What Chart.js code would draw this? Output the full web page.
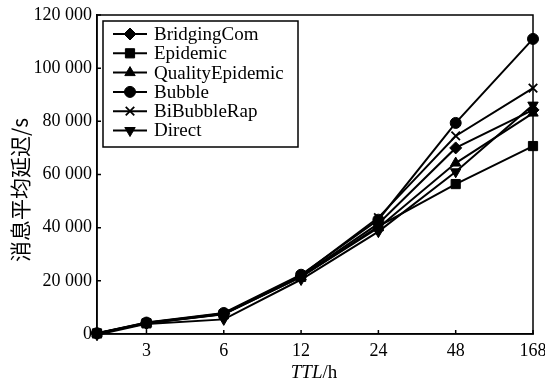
<!DOCTYPE html>
<html>
<head>
<meta charset="utf-8">
<script src="https://cdn.jsdelivr.net/npm/chart.js@4"></script>
<style>
  html, body { margin: 0; padding: 0; background: #fff; }
  #wrap { width: 545px; height: 385px; }
</style>
</head>
<body>
<div id="wrap"><canvas id="delayChart" width="545" height="385"></canvas></div>
<script>
// TTL categories (first point has no label), placed on an ordinal axis
var ttlLabels = ['', '3', '6', '12', '24', '48', '168'];
var ttlPos = [0.36, 1, 2, 3, 4, 5, 6];

var bridgingCom = [200, 4100, 7600, 21800, 41500, 70000, 84300];
var epidemic = [200, 4000, 7400, 21500, 40500, 56400, 70700];
var qualityEpidemic = [200, 4000, 7500, 21500, 40000, 64300, 83100];
var bubble = [300, 4300, 7900, 22300, 43000, 79400, 111000];
var biBubbleRap = [300, 4200, 7700, 22000, 43800, 74500, 92500];
var direct = [-300, 3800, 5500, 20500, 38500, 61000, 86100];

var yTicks = [0, 20000, 40000, 60000, 80000, 100000, 120000];

var serif = '"Liberation Serif", "DejaVu Serif", serif';

function pts(vals) {
    return vals.map(function (v, i) { return { x: ttlPos[i], y: v }; });
}

function series(label, vals, style, radius, rot) {
    return {
        label: label,
        data: pts(vals),
        borderColor: '#000',
        backgroundColor: '#000',
        borderWidth: 2,
        pointStyle: style,
        pointRadius: radius,
        pointRotation: rot || 0,
        pointBorderWidth: style === 'crossRot' ? 1.8 : 1,
        pointBorderColor: '#000',
        pointBackgroundColor: '#000',
        tension: 0,
        clip: false
    };
}

var datasets = [
    series('BridgingCom', bridgingCom, 'rectRot', 6),
    series('Epidemic', epidemic, 'rect', 6.5),
    series('QualityEpidemic', qualityEpidemic, 'triangle', 6),
    series('Bubble', bubble, 'circle', 5.5),
    series('BiBubbleRap', biBubbleRap, 'crossRot', 6),
    series('Direct', direct, 'triangle', 6, 180)
];

// frame, inward ticks, axis titles and boxed legend
var decorations = {
    id: 'decorations',
    afterDraw: function (chart) {
        var ctx = chart.ctx;
        var a = chart.chartArea;
        var xs = chart.scales.x, ys = chart.scales.y;
        ctx.save();
        ctx.strokeStyle = '#000';
        ctx.lineWidth = 1.5;
        ctx.strokeRect(a.left, a.top, a.right - a.left, a.bottom - a.top);

        ctx.beginPath();
        yTicks.forEach(function (v) {
            var y = ys.getPixelForValue(v);
            ctx.moveTo(a.left, y); ctx.lineTo(a.left + 4, y);
        });
        ttlPos.slice(1).forEach(function (p) {
            var x = xs.getPixelForValue(p);
            ctx.moveTo(x, a.bottom); ctx.lineTo(x, a.bottom - 4);
        });
        ctx.stroke();

        // y title
        ctx.fillStyle = '#000';
        ctx.save();
        ctx.translate(20, 190);
        ctx.rotate(-Math.PI / 2);
        ctx.textAlign = 'center';
        ctx.textBaseline = 'middle';
        ctx.font = '21px "Noto Sans CJK SC", sans-serif';
        ctx.fillText('消息平均延迟/s', 0, 0);
        ctx.restore();

        // x title: italic TTL + /h
        ctx.textBaseline = 'middle';
        ctx.textAlign = 'left';
        ctx.font = 'italic 19px ' + serif;
        var w1 = ctx.measureText('TTL').width;
        ctx.font = '19px ' + serif;
        var w2 = ctx.measureText('/h').width;
        var x0 = 314 - (w1 + w2) / 2;
        ctx.font = 'italic 19px ' + serif;
        ctx.fillText('TTL', x0, 373);
        ctx.font = '19px ' + serif;
        ctx.fillText('/h', x0 + w1, 373);

        // legend box
        var lx = a.left + 6, ly = a.top + 6, lw = 195, lh = 126;
        ctx.fillStyle = '#fff';
        ctx.fillRect(lx, ly, lw, lh);
        ctx.lineWidth = 1.5;
        ctx.strokeRect(lx, ly, lw, lh);
        chart.data.datasets.forEach(function (ds, i) {
            var cy = ly + 13 + i * 19.3;
            ctx.strokeStyle = '#000';
            ctx.lineWidth = 2;
            ctx.beginPath();
            ctx.moveTo(lx + 10, cy); ctx.lineTo(lx + 44, cy);
            ctx.stroke();
            ctx.fillStyle = '#000';
            ctx.lineWidth = ds.pointBorderWidth;
            Chart.helpers.drawPoint(ctx, {
                pointStyle: ds.pointStyle,
                radius: ds.pointRadius,
                rotation: ds.pointRotation,
                borderWidth: ds.pointBorderWidth
            }, lx + 27, cy);
            ctx.fillStyle = '#000';
            ctx.font = '19px ' + serif;
            ctx.textAlign = 'left';
            ctx.textBaseline = 'middle';
            ctx.fillText(ds.label, lx + 51, cy + 1);
        });
        ctx.restore();
    }
};

var ctx = document.getElementById('delayChart').getContext('2d');
var delayChart = new Chart(ctx, {
    type: 'line',
    data: { datasets: datasets },
    options: {
        responsive: false,
        animation: false,
        layout: { padding: { top: 15, right: 12, left: 0, bottom: 0 } },
        plugins: {
            legend: { display: false },
            tooltip: { enabled: false }
        },
        scales: {
            x: {
                type: 'linear',
                min: ttlPos[0],
                max: ttlPos[ttlPos.length - 1],
                afterBuildTicks: function (scale) {
                    scale.ticks = ttlPos.slice(1).map(function (p) { return { value: p }; });
                },
                afterFit: function (scale) {
                    scale.height = 51;
                    scale.paddingLeft = 0;
                    scale.paddingRight = 0;
                },
                grid: { display: false, drawTicks: false },
                border: { display: true, color: '#000', width: 1.5 },
                ticks: {
                    color: '#000',
                    padding: 6,
                    maxRotation: 0,
                    font: { family: serif, size: 18 },
                    callback: function (v) {
                        var i = ttlPos.indexOf(v);
                        return i >= 0 ? ttlLabels[i] : '';
                    }
                }
            },
            y: {
                min: 0,
                max: 120000,
                afterBuildTicks: function (scale) {
                    scale.ticks = yTicks.map(function (v) { return { value: v }; });
                },
                afterFit: function (scale) {
                    scale.width = 97;
                    scale.paddingTop = 0;
                    scale.paddingBottom = 0;
                },
                grid: { display: false, drawTicks: false },
                border: { display: true, color: '#000', width: 1.5 },
                ticks: {
                    color: '#000',
                    padding: 5,
                    font: { family: serif, size: 18 },
                    callback: function (v) {
                        return String(v).replace(/\B(?=(\d{3})+(?!\d))/g, ' ');
                    }
                }
            }
        }
    },
    plugins: [decorations]
});
</script>
</body>
</html>
